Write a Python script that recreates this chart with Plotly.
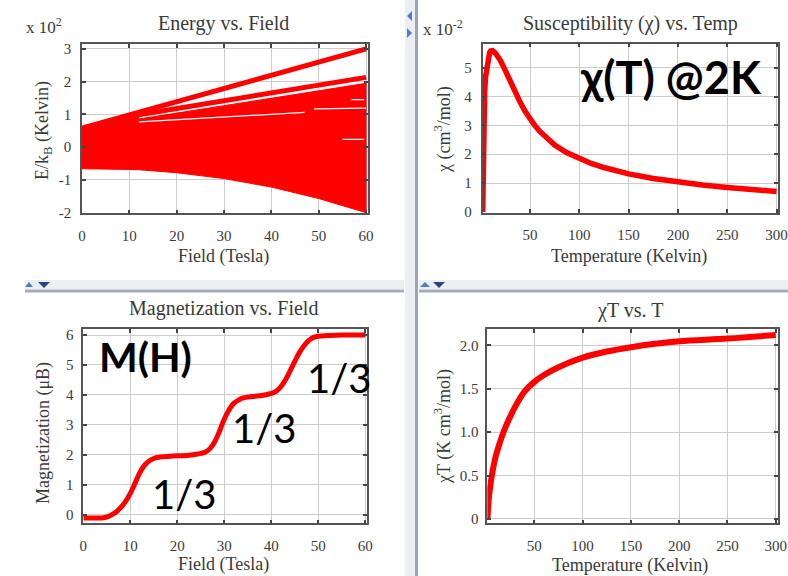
import plotly.graph_objects as go

W, H = 788, 576
def px(x): return x / W
def py(y): return 1 - y / H

RED = "#ff0000"
SERIF = "Liberation Serif"
TXT = "#3a3a3a"

# ---------------- data ----------------
# Energy vs Field (units of 10^2 K)
fan_upper_T = [0, 5, 10, 12, 12, 20, 30, 40, 50, 60]
fan_upper_E = [0.62, 0.82, 1.0, 1.04, 0.86, 1.04, 1.26, 1.49, 1.72, 1.95]
fan_lower_T = [0, 10, 12, 20, 30, 40, 50, 60]
fan_lower_E = [-0.66, -0.68, -0.69, -0.78, -0.96, -1.22, -1.57, -2.0]
level1_T = [0, 10, 20, 30, 40, 50, 60]
level1_E = [0.58, 0.98, 1.4, 1.8, 2.2, 2.6, 3.0]
level2_T = [12, 20, 30, 40, 50, 60]
level2_E = [0.99, 1.18, 1.42, 1.66, 1.9, 2.13]
gap_T = [12, 20, 30, 40, 47]
gap_E = [0.77, 0.84, 0.92, 1.0, 1.06]
gap2_T = [49, 60]
gap2_E = [1.17, 1.19]
gap3_T = [55, 59.6]
gap3_E = [0.24, 0.24]
gap4_T = [56.8, 59.6]
gap4_E = [1.45, 1.45]

# Susceptibility vs Temperature (units of 10^-2 cm^3/mol)
chi_T = [2.0, 2.5, 3, 4, 5, 6, 7, 8, 9, 10, 11, 12, 15, 20, 25, 30, 35, 40, 45, 50, 55,
         60, 67, 75, 87, 100, 112, 125, 137, 150, 175, 200, 225, 250, 275, 300]
chi_V = [0, 3.2, 3.5, 4.2, 4.7, 5.0, 5.22, 5.4, 5.52, 5.58, 5.6, 5.59, 5.5, 5.25, 4.9,
         4.5, 4.14, 3.8, 3.49, 3.22, 2.99, 2.79, 2.55, 2.32, 2.06, 1.84, 1.68, 1.54, 1.43,
         1.32, 1.16, 1.03, 0.93, 0.85, 0.77, 0.71]

# Magnetization vs Field
m_B = [0, 2, 4, 5, 6, 7, 8, 9, 10, 11, 12, 13, 14, 15, 16, 18, 20, 22, 24, 25, 26, 27, 28,
       29, 30, 31, 32, 33, 34, 36, 38, 40, 41, 42, 43, 44, 45, 46, 47, 48, 49, 50, 52, 55, 60]
m_M = [-0.1, -0.1, -0.1, -0.07, 0.0, 0.1, 0.25, 0.45, 0.72, 1.05, 1.4, 1.65, 1.8, 1.88,
       1.92, 1.95, 1.97, 1.98, 2.02, 2.05, 2.1, 2.22, 2.45, 2.8, 3.2, 3.5, 3.72, 3.83, 3.9,
       3.95, 3.98, 4.05, 4.12, 4.27, 4.5, 4.8, 5.12, 5.42, 5.65, 5.82, 5.92, 5.96, 5.98,
       6.0, 6.0]

# chiT vs T
chiT_T = [1.5, 2, 3, 4, 6, 8, 10, 14, 18, 25, 32, 40, 50, 60, 75, 100, 125, 150, 175,
          200, 250, 300]
chiT_V = [0, 0.1, 0.25, 0.35, 0.5, 0.62, 0.72, 0.87, 1.0, 1.18, 1.33, 1.47, 1.58, 1.66,
          1.75, 1.86, 1.93, 1.98, 2.02, 2.05, 2.08, 2.12]

# tick labels
e_yticks = [-2, -1, 0, 1, 2, 3]
e_yticktext = ["-2", "-1", "0", "1", "2", "3"]
field_ticks = [0, 10, 20, 30, 40, 50, 60]
temp_ticks = [50, 100, 150, 200, 250, 300]
chi_yticks = [0, 1, 2, 3, 4, 5]
m_yticks = [0, 1, 2, 3, 4, 5, 6]
chiT_yticks = [0, 0.5, 1.0, 1.5, 2.0]
chiT_yticktext = ["0", "0.5", "1.0", "1.5", "2.0"]

# ---------------- figure ----------------
fig = go.Figure()

fig.add_trace(go.Scatter(
    x=fan_upper_T + fan_lower_T[::-1], y=fan_upper_E + fan_lower_E[::-1],
    fill="toself", fillcolor=RED, mode="lines", line=dict(color=RED, width=1),
    xaxis="x", yaxis="y", hoverinfo="skip"))
for xs, ys in [(level1_T, level1_E), (level2_T, level2_E)]:
    fig.add_trace(go.Scatter(x=xs, y=ys, mode="lines", line=dict(color=RED, width=5),
                             xaxis="x", yaxis="y"))
for xs, ys in [(gap_T, gap_E), (gap2_T, gap2_E), (gap3_T, gap3_E), (gap4_T, gap4_E)]:
    fig.add_trace(go.Scatter(x=xs, y=ys, mode="lines", line=dict(color="white", width=1.3),
                             xaxis="x", yaxis="y"))

fig.add_trace(go.Scatter(x=chi_T, y=chi_V, mode="lines",
                         line=dict(color=RED, width=5.5),
                         xaxis="x2", yaxis="y2"))
fig.add_trace(go.Scatter(x=m_B, y=m_M, mode="lines", line=dict(color=RED, width=5, shape="spline"),
                         xaxis="x3", yaxis="y3"))
fig.add_trace(go.Scatter(x=chiT_T, y=chiT_V, mode="lines", line=dict(color=RED, width=6, shape="spline"),
                         xaxis="x4", yaxis="y4"))

def axis(domain, rng, anchor, tickvals, ticktext=None, standoff=8):
    d = dict(domain=domain, range=rng, anchor=anchor, tickvals=tickvals,
             showline=True, linecolor="#555555", linewidth=1.5, mirror="allticks",
             ticks="inside", ticklen=4, tickcolor="#444444", tickwidth=1.5,
             showgrid=True, gridcolor="#cccccc", gridwidth=1, zeroline=False,
             tickfont=dict(family=SERIF, size=15, color=TXT), automargin=False,
             ticklabelstandoff=standoff, fixedrange=True)
    if ticktext is not None:
        d["ticktext"] = ticktext
    return d

fig.update_layout(
    width=W, height=H, autosize=False, showlegend=False,
    margin=dict(l=0, r=0, t=0, b=0, pad=0, autoexpand=False),
    paper_bgcolor="white", plot_bgcolor="white",
    xaxis=axis([px(82), px(367.5)], [0, 60.3], "y", field_ticks),
    yaxis=axis([py(213.3), py(44.3)], [-2.02, 3.14], "x", e_yticks, e_yticktext, standoff=6),
    xaxis2=axis([px(482.5), px(778)], [1.8, 301.5], "y2", temp_ticks),
    yaxis2=axis([py(212.5), py(43.5)], [-0.02, 5.84], "x2", chi_yticks, standoff=6),
    xaxis3=axis([px(83.3), px(366.7)], [0, 60.3], "y3", field_ticks),
    yaxis3=axis([py(523.3), py(329.3)], [-0.28, 6.19], "x3", m_yticks, standoff=5),
    xaxis4=axis([px(487.3), px(777.7)], [1.3, 302], "y4", temp_ticks),
    yaxis4=axis([py(523.3), py(329)], [-0.05, 2.19], "x4", chiT_yticks, chiT_yticktext, standoff=4),
)

ann = []
def text(x, y, s, size, family=SERIF, color=TXT, angle=0, xanchor="center", bold=False):
    if bold:
        s = "<b>" + s + "</b>"
    ann.append(dict(x=px(x), y=py(y), xref="paper", yref="paper", text=s, showarrow=False,
                    textangle=angle, xanchor=xanchor, yanchor="middle",
                    font=dict(family=family, size=size, color=color)))

text(223, 23, "Energy vs. Field", 20)
text(630, 23, "Susceptibility (χ) vs. Temp", 20)
text(223, 308, "Magnetization vs. Field", 20)
text(630, 310, "χT vs. T", 20)
text(223, 256, "Field (Tesla)", 18)
text(629, 256, "Temperature (Kelvin)", 18)
text(223, 564, "Field (Tesla)", 18)
text(630, 565, "Temperature (Kelvin)", 18)
text(43, 131, "E/k<sub>B</sub> (Kelvin)", 18, angle=-90)
text(443, 130, "χ (cm<sup>3</sup>/mol)", 18, angle=-90)
text(43, 433, "Magnetization (μB)", 18, angle=-90)
text(443, 427, "χT (K cm<sup>3</sup>/mol)", 18, angle=-90)
text(24, 26, "x 10<sup>2</sup>", 17, xanchor="left")
text(421, 28, "x 10<sup>-2</sup>", 17, xanchor="left")
text(671, 77, "χ(T) @2K", 45, family="Lato", color="black", bold=True)
text(145, 356, "M(H)", 41, family="Lato", color="black", bold=True)
text(184, 494, "1/3", 40, family="Lato", color="black")
text(264, 428, "1/3", 40, family="Lato", color="black")
text(339, 378, "1/3", 40, family="Lato", color="black")
fig.update_layout(annotations=ann)

shapes = []
def rect(x0, y0, x1, y1, color):
    shapes.append(dict(type="rect", xref="paper", yref="paper", x0=px(x0), x1=px(x1),
                       y0=py(y1), y1=py(y0), fillcolor=color, line=dict(width=0), layer="above"))
def tri(pts, color):
    path = "M " + " L ".join(f"{px(a)},{py(b)}" for a, b in pts) + " Z"
    shapes.append(dict(type="path", xref="paper", yref="paper", path=path, fillcolor=color,
                       line=dict(width=0), layer="above"))

rect(25, 280, 404, 289, "#eceef2")
rect(25, 289.5, 404, 292.5, "#a3acba")
rect(419, 280, 788, 289, "#eceef2")
rect(419, 289.5, 788, 292.5, "#a3acba")
rect(405, 0, 415, 576, "#eceef2")
rect(415, 0, 418, 576, "#9aa6b8")
tri([(25, 287), (29, 282), (33, 287)], "#4f7cc4")
tri([(38, 282), (50, 282), (44, 288)], "#27457f")
tri([(420, 287), (425, 282), (430, 287)], "#4f7cc4")
tri([(433, 282), (445, 282), (439, 288)], "#27457f")
tri([(412, 11), (407, 16), (412, 21)], "#4f7cc4")
tri([(407, 28), (412, 33), (407, 38)], "#4f7cc4")
fig.update_layout(shapes=shapes)

fig.write_html("out.html")
